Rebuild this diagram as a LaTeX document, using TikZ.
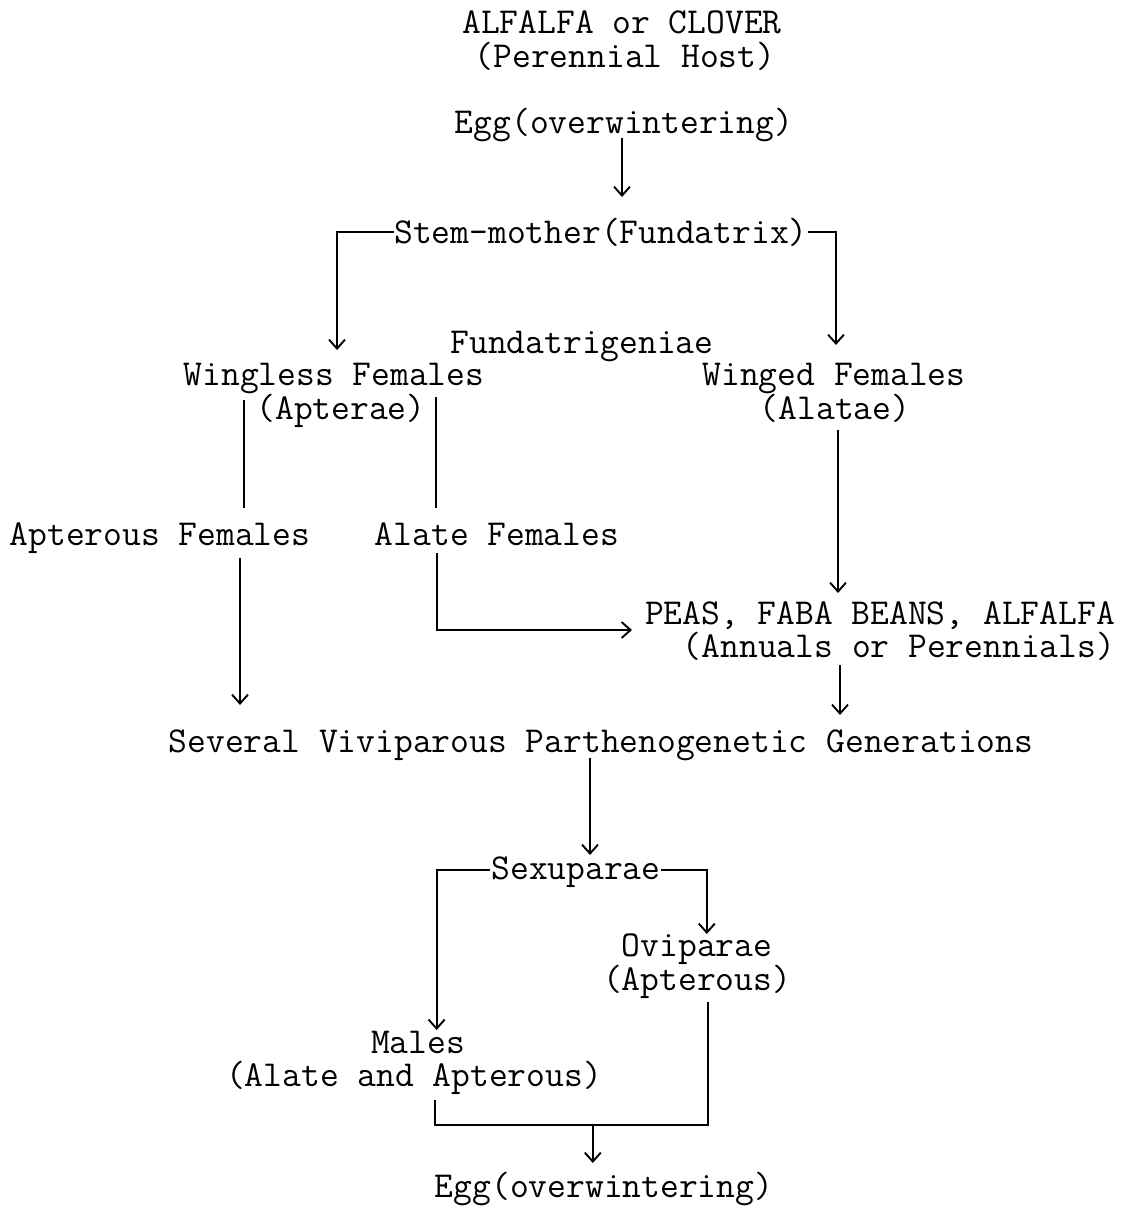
\documentclass[tikz,border=0pt]{standalone}
\usepackage{fontspec}
\usetikzlibrary{arrows.meta,calc}
\begin{document}
\begin{tikzpicture}[x=1pt,y=-1pt,
  lbl/.style={font=\ttfamily\fontsize{36.5}{38}\selectfont, inner sep=0pt, anchor=base, text height=20pt, text depth=5pt},
  conn/.style={line width=1.9pt, line cap=butt, line join=miter},
  arr/.style={conn, -{Straight Barb[length=9pt,width=16pt,line width=1.9pt]}}]
\useasboundingbox (0,0) rectangle (1128,1216);
% text nodes (x = centre, y = baseline)
\node[lbl] (t1)    at (622,33)  {ALFALFA or CLOVER};
\node[lbl] (t2)    at (625,67)  {(Perennial Host)};
\node[lbl] (egg1)  at (624,133) {Egg(overwintering)};
\node[lbl] (stem)  at (601,243) {Stem-mother(Fundatrix)};
\node[lbl] (fund)  at (582,353) {Fundatrigeniae};
\node[lbl] (wl)    at (334,385) {Wingless Females};
\node[lbl] (apt)   at (341,419) {(Apterae)};
\node[lbl] (wf)    at (834,385) {Winged Females};
\node[lbl] (ala)   at (835,419) {(Alatae)};
\node[lbl] (apf)   at (160,545) {Apterous Females};
\node[lbl] (alf)   at (497,545) {Alate Females};
\node[lbl] (peas)  at (880,624) {PEAS, FABA BEANS, ALFALFA};
\node[lbl] (ann)   at (899,657) {(Annuals or Perennials)};
\node[lbl] (sev)   at (601,752) {Several Viviparous Parthenogenetic Generations};
\node[lbl] (sex)   at (576,879) {Sexuparae};
\node[lbl] (ovi)   at (697,956) {Oviparae};
\node[lbl] (oviap) at (697,990) {(Apterous)};
\node[lbl] (mal)   at (418,1053) {Males};
\node[lbl] (malap) at (414,1086) {(Alate and Apterous)};
\node[lbl] (egg2)  at (604,1197) {Egg(overwintering)};
% connectors
\draw[arr] ([shift={(-2,5)}]egg1.base) -- ++(0,59);
\draw[arr] ([shift={(0,-11)}]stem.base west) -- ++(-57,0) -- ++(0,118);
\draw[arr] ([shift={(0,-11)}]stem.base east) -- ++(28,0) -- ++(0,113);
\draw[conn] ([shift={(-12.6,-19)}]apt.base west) -- ++(0,108);
\draw[conn] ([shift={(10.6,-22)}]apt.base east) -- ++(0,111);
\draw[arr] ([shift={(3,11)}]ala.base) -- ++(0,163);
\draw[arr] ([shift={(80,13)}]apf.base) -- ++(0,147);
\draw[arr] ([shift={(-60,8)}]alf.base) -- ++(0,77) -- ++(195,0);
\draw[arr] ([shift={(-59,8)}]ann.base) -- ++(0,50);
\draw[arr] ([shift={(-11,6)}]sev.base) -- ++(0,97);
\draw[arr] ([shift={(-1,-9)}]sex.base west) -- ++(-53.6,0) -- ++(0,160);
\draw[arr] ([shift={(0,-9)}]sex.base east) -- ++(46,0) -- ++(0,64);
\draw[conn] ([shift={(21,14)}]malap.base) -- ++(0,25) coordinate (jl) -- ++(273,0) coordinate (jr) -- ([shift={(11,12)}]oviap.base);
\coordinate (j) at ($(jl)!0.578!(jr)$);
\draw[arr] (j) -- ++(0,38);
\end{tikzpicture}
\end{document}
